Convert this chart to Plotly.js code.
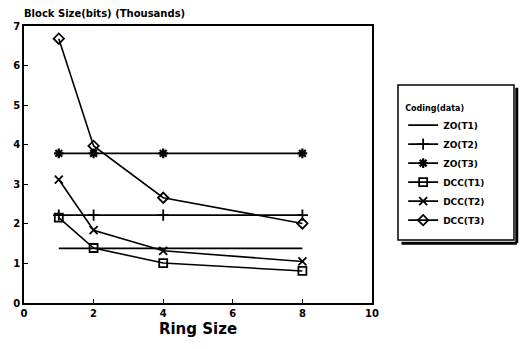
<!DOCTYPE html>
<html>
<head>
<meta charset="utf-8">
<script src="https://cdn.plot.ly/plotly-3.0.1.min.js"></script>
<style>
  html, body { margin: 0; padding: 0; background: #fff; }
  #chart { width: 521px; height: 349px; }
</style>
</head>
<body>
<div id="chart"></div>
<script>
// Block size (thousands of bits) versus ring size for each coding scheme
const ringSize = [1, 2, 4, 8];
const seriesNames = ["ZO(T1)", "ZO(T2)", "ZO(T3)", "DCC(T1)", "DCC(T2)", "DCC(T3)"];
const zoT1 = [1.38, 1.38, 1.38, 1.38];
const zoT2 = [2.22, 2.22, 2.22, 2.22];
const zoT3 = [3.78, 3.78, 3.78, 3.78];
const dccT1 = [2.16, 1.39, 1.01, 0.81];
const dccT2 = [3.12, 1.84, 1.32, 1.05];
const dccT3 = [6.68, 3.97, 2.66, 2.01];
const xTicks = [0, 2, 4, 6, 8, 10];
const yTicks = [0, 1, 2, 3, 4, 5, 6, 7];

const seriesValues = [zoT1, zoT2, zoT3, dccT1, dccT2, dccT3];
const symbols = [null, "cross-thin", "asterisk", "square-open", "x-thin", "diamond-open"];

const FONT = "DejaVu Sans, Liberation Sans, sans-serif";

const traces = seriesValues.map((vals, i) => {
  const t = {
    type: "scatter",
    x: ringSize,
    y: vals,
    name: seriesNames[i],
    line: { color: "#000", width: 1.6 },
    mode: symbols[i] ? "lines+markers" : "lines"
  };
  if (symbols[i]) {
    t.marker = {
      symbol: symbols[i],
      size: 8,
      color: "#000",
      line: { color: "#000", width: i === 2 ? 2.2 : 1.8 }
    };
  }
  return t;
});

// legend frame and its drop shadow, in paper units of the plot area
const boxL = 1.0747, boxR = 1.408, boxT = 0.787, boxB = 0.227;

const layout = {
  width: 521,
  height: 349,
  margin: { l: 24, r: 149, t: 26, b: 46 },
  paper_bgcolor: "#fff",
  plot_bgcolor: "#fff",
  showlegend: true,
  font: { family: FONT, color: "#000", size: 10 },
  xaxis: {
    range: [0, 10],
    tickvals: xTicks,
    ticks: "inside",
    ticklen: 4,
    tickwidth: 1.2,
    tickcolor: "#000",
    showgrid: false,
    zeroline: false,
    showline: true,
    linecolor: "#000",
    linewidth: 1.8,
    mirror: true,
    tickfont: { family: FONT, size: 10, color: "#000", weight: "bold" },
    title: { text: "Ring Size", font: { family: FONT, size: 15, color: "#000", weight: "bold" }, standoff: 6 }
  },
  yaxis: {
    range: [0, 7],
    tickvals: yTicks,
    ticks: "inside",
    ticklen: 4,
    tickwidth: 1.2,
    tickcolor: "#000",
    showgrid: false,
    zeroline: false,
    showline: true,
    linecolor: "#000",
    linewidth: 1.8,
    mirror: true,
    tickfont: { family: FONT, size: 10, color: "#000", weight: "bold" }
  },
  legend: {
    x: 1.0895,
    y: 0.732,
    xanchor: "left",
    yanchor: "top",
    borderwidth: 0,
    bgcolor: "rgba(0,0,0,0)",
    tracegroupgap: 0,
    itemwidth: 30,
    font: { family: FONT, size: 9, color: "#000", weight: "bold" },
    title: { text: "Coding(data)", font: { family: FONT, size: 8, color: "#000", weight: "bold" } }
  },
  annotations: [{
    text: "Block Size(bits) (Thousands)",
    xref: "paper", yref: "paper",
    x: -0.005, y: 1.0,
    xanchor: "left", yanchor: "bottom",
    yshift: 5,
    showarrow: false,
    font: { family: FONT, size: 10, color: "#000", weight: "bold" }
  }],
  shapes: [
    { type: "rect", xref: "paper", yref: "paper", layer: "below",
      x0: boxL, x1: boxR, y0: boxB, y1: boxT,
      line: { color: "#000", width: 1.5 }, fillcolor: "#fff" },
    { type: "line", xref: "paper", yref: "paper", x0: boxR + 0.008, x1: boxR + 0.008, y0: boxT - 0.01, y1: boxB - 0.011, line: { color: "#000", width: 3 } },
    { type: "line", xref: "paper", yref: "paper", x0: boxL + 0.01, x1: boxR + 0.008, y0: boxB - 0.011, y1: boxB - 0.011, line: { color: "#000", width: 3 } }
  ]
};

Plotly.newPlot("chart", traces, layout, { staticPlot: true, displayModeBar: false });
</script>
</body>
</html>
